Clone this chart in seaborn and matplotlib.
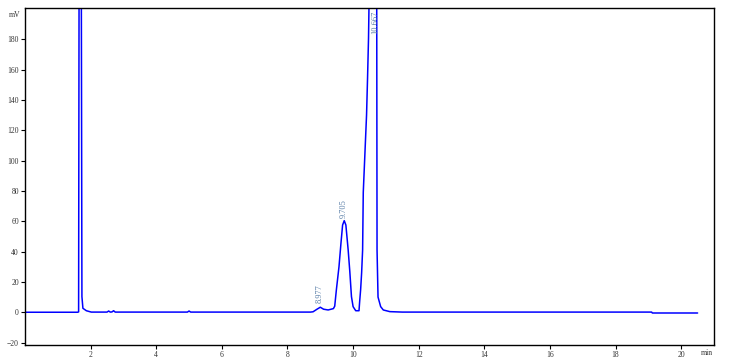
import matplotlib
matplotlib.use("Agg")
import matplotlib.pyplot as plt
import seaborn as sns
import pandas as pd

# ---- data ----
time_min = [0.0, 1.60, 1.634, 1.66, 1.70, 1.735, 1.765, 1.87, 2.02, 2.50, 2.55, 2.60,
            2.65, 2.70, 2.75, 4.95, 5.00, 5.05, 8.70, 8.78, 8.90, 9.00, 9.10, 9.24,
            9.40, 9.44, 9.49, 9.57, 9.63, 9.68, 9.73, 9.78, 9.85, 9.90, 9.95, 10.00,
            10.08, 10.18, 10.20, 10.23, 10.26, 10.29, 10.31, 10.41, 10.44, 10.47,
            10.49, 10.60, 10.72, 10.73, 10.76, 10.84, 10.92, 11.12, 11.50, 19.10,
            19.12, 20.50]
signal_mv = [0.0, 0.0, 0.2, 400, 400, 10.3, 2.6, 1.0, 0.1, 0.1, 0.8, 0.1,
             0.2, 1.0, 0.1, 0.1, 0.8, 0.1, 0.1, 0.3, 2.0, 3.3, 2.0, 1.5,
             2.4, 4.0, 14.7, 30, 45.5, 57.5, 60.4, 57.5, 41, 26.8, 10.3, 3.7,
             1.0, 1.0, 7, 15, 26, 41, 79, 130, 154, 180.6,
             210, 600, 210, 41, 10, 3.7, 1.5, 0.4, 0.1, 0.1,
             -0.5, -0.5]

peak_times = [8.977, 9.705, 10.667]
peak_labels = ["8.977", "9.705", "10.667"]
peak_label_y = [6, 62, 199]

x_ticks = [2, 4, 6, 8, 10, 12, 14, 16, 18, 20]
y_ticks = [-20, 0, 20, 40, 60, 80, 100, 120, 140, 160, 180]

df = pd.DataFrame({"time": time_min, "signal": signal_mv})

sns.set_theme(style="white")
plt.rcParams["font.family"] = ["Liberation Serif", "DejaVu Serif"]

fig = plt.figure(figsize=(7.34, 3.64), dpi=100)
ax = fig.add_axes([25 / 734, 1 - 345 / 364, (714 - 25) / 734, (345 - 8.3) / 364])

sns.lineplot(data=df, x="time", y="signal", ax=ax, color="#0000ff",
             linewidth=1.1, estimator=None, sort=False)

ax.set_xlim(0, 21)
ax.set_ylim(-21.6, 200.4)
ax.set_xticks(x_ticks)
ax.set_yticks(y_ticks)
ax.set_xlabel("")
ax.set_ylabel("")

for s in ax.spines.values():
    s.set_color("black")
    s.set_linewidth(1.0)
    s.set_visible(True)

ax.tick_params(axis="both", which="both", direction="out", length=3, width=0.8,
               color="black", labelsize=5.5, labelcolor="#333333")
ax.tick_params(axis="x", bottom=True, top=False, pad=1.5)
ax.tick_params(axis="y", left=True, right=False, pad=1.5)

ax.text(-0.006, 196, "mV", transform=ax.get_yaxis_transform(), ha="right",
        va="center", fontsize=5.5, color="#333333")
ax.text(20.78, -0.012, "min", transform=ax.get_xaxis_transform(), ha="center",
        va="top", fontsize=5.5, color="#333333")

for t, lab, y in zip(peak_times, peak_labels, peak_label_y):
    va = "top" if y > 190 else "bottom"
    ax.text(t, y, lab, rotation=90, ha="center", va=va, fontsize=6,
            color="#5a7fa8")

fig.savefig("out.png", dpi=100)
